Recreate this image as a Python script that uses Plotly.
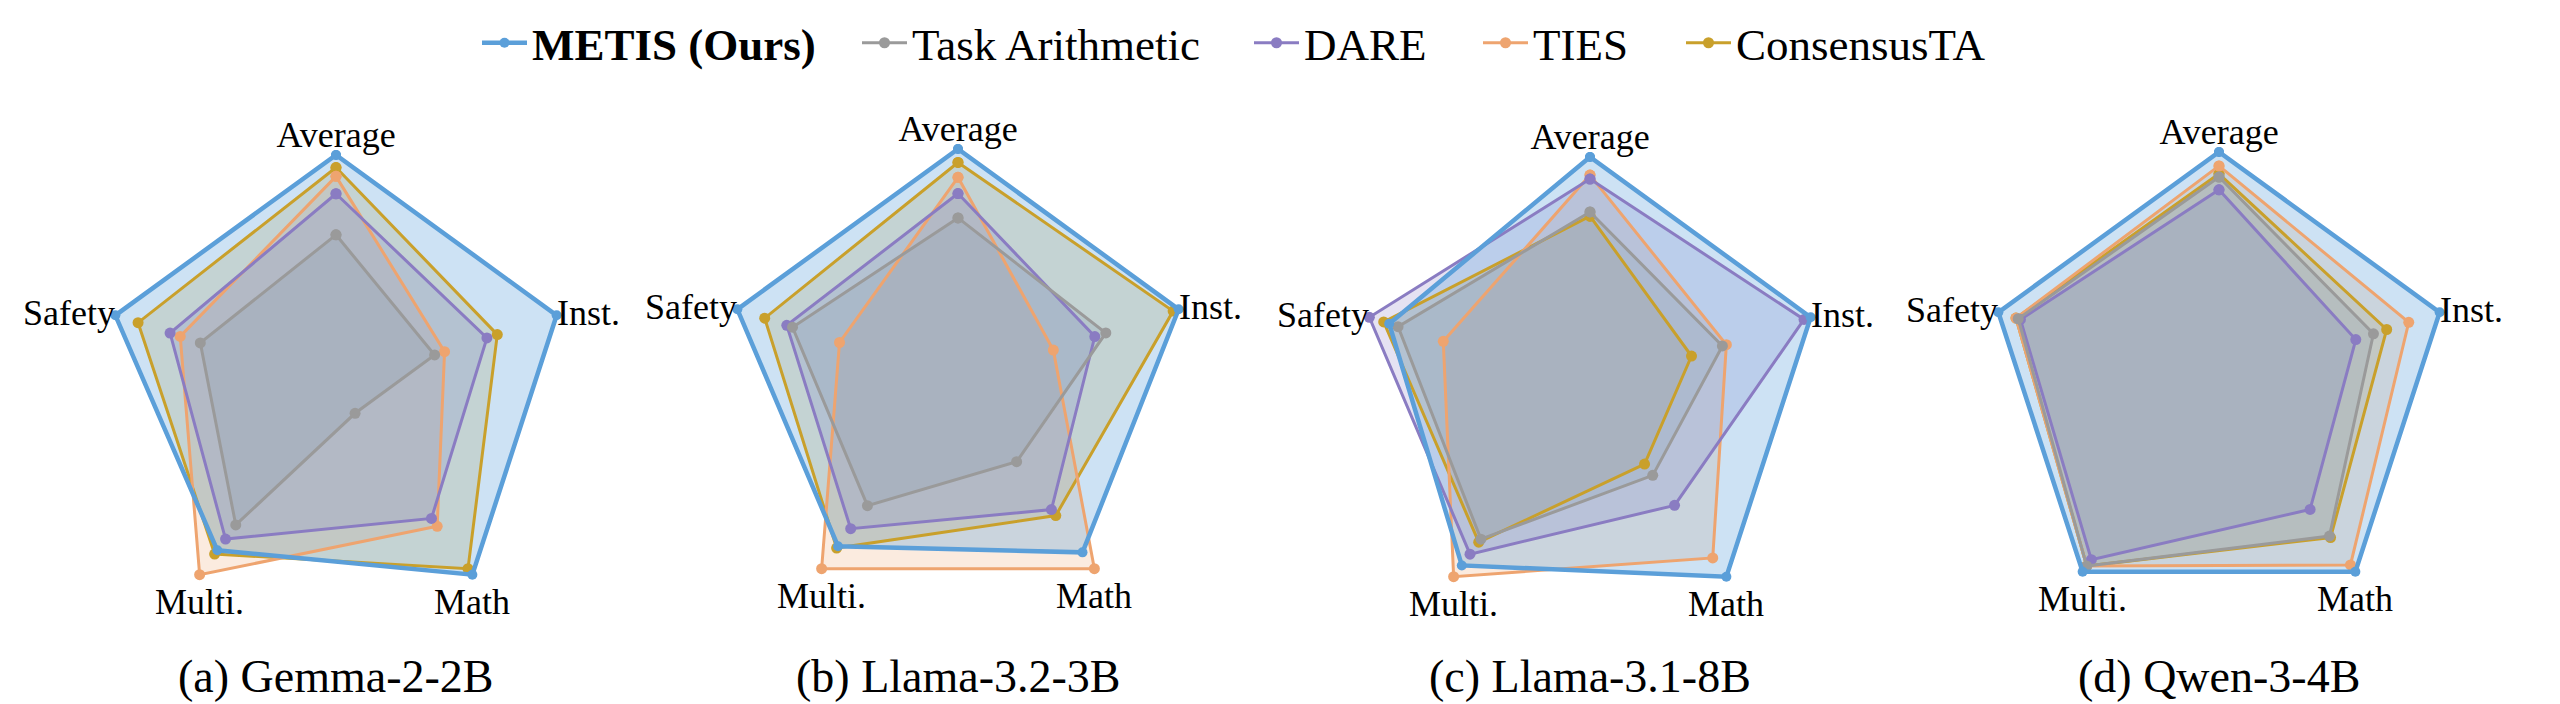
import math
import plotly.graph_objects as go

# ---------------- data (normalised score, 1.0 = outer circle) ----------------
AXES = ["Average", "Inst.", "Math", "Multi.", "Safety"]
MODELS = ["(a) Gemma-2-2B", "(b) Llama-3.2-3B", "(c) Llama-3.1-8B", "(d) Qwen-3-4B"]
METHODS = ["METIS (Ours)", "Task Arithmetic", "DARE", "TIES", "ConsensusTA"]

# one list per model, values ordered as AXES
metis = [
    [1.00, 1.00, 1.00, 0.87, 1.00],
    [1.00, 1.00, 0.913, 0.88, 1.00],
    [1.00, 1.00, 1.00, 0.94, 0.91],
    [1.00, 1.00, 1.00, 1.00, 1.00],
]
task_arithmetic = [
    [0.656, 0.447, 0.14, 0.735, 0.615],
    [0.703, 0.67, 0.43, 0.664, 0.75],
    [0.763, 0.60, 0.46, 0.80, 0.87],
    [0.892, 0.70, 0.81, 0.97, 0.91],
]
dare = [
    [0.833, 0.684, 0.70, 0.81, 0.752],
    [0.808, 0.62, 0.685, 0.787, 0.776],
    [0.905, 0.97, 0.62, 0.88, 1.00],
    [0.837, 0.62, 0.668, 0.936, 0.90],
]
ties = [
    [0.908, 0.492, 0.742, 1.00, 0.706],
    [0.878, 0.432, 1.00, 1.00, 0.537],
    [0.922, 0.618, 0.90, 1.00, 0.665],
    [0.94, 0.86, 0.964, 0.97, 0.92],
]
consensus_ta = [
    [0.946, 0.731, 0.968, 0.89, 0.897],
    [0.942, 0.975, 0.717, 0.89, 0.876],
    [0.745, 0.46, 0.40, 0.816, 0.935],
    [0.906, 0.76, 0.818, 0.97, 0.92],
]

RING_LEVELS = [0.48, 0.58, 0.685, 0.785, 0.885, 0.985]
SPOKE_ANGLES = [0, 45, 90, 135, 180, 225, 270, 315]

# ---------------- styles ----------------
# (legend label, values, colour, fill alpha, line width, marker size, legend id, legend text start px)
SERIES = [
    ("ConsensusTA", consensus_ta, "#c9a02b", 0.22, 3.0, 11, "legend5", 1736),
    ("TIES", ties, "#eea46f", 0.22, 3.0, 11, "legend4", 1533),
    ("DARE", dare, "#8a7cc2", 0.22, 3.0, 11, "legend3", 1304),
    ("Task Arithmetic", task_arithmetic, "#9a9a9a", 0.22, 3.0, 11, "legend2", 912),
    ("<b>METIS (Ours)</b>", metis, "#5b9fd9", 0.30, 4.5, 10, "legend", 532),
]

FONT = "Liberation Serif"
W, H = 2560, 704
CENTERS_X = [336, 958, 1590, 2219]
CENTERS_Y = [387, 381, 389, 384]
R = 232
ITEMW = 45
LEG_Y = 43
BOTTOM_LABELS = ["Math", "Multi."]   # centred under their spoke, as in the original


def rgba(hexc, a):
    h = hexc.lstrip("#")
    r, g, b = int(h[0:2], 16), int(h[2:4], 16), int(h[4:6], 16)
    return f"rgba({r},{g},{b},{a})"


fig = go.Figure()
layout = dict(
    width=W, height=H,
    margin=dict(l=0, r=0, t=0, b=0),
    paper_bgcolor="white",
    plot_bgcolor="white",
    showlegend=True,
    annotations=[],
)

for _, _, _, _, _, _, leg, tx in SERIES:
    layout[leg] = dict(
        x=(tx - ITEMW - 10) / W, xanchor="left",
        y=1 - LEG_Y / H, yanchor="middle",
        font=dict(family=FONT, size=45, color="black"),
        itemwidth=ITEMW, bgcolor="rgba(0,0,0,0)", borderwidth=0,
    )

for i, model in enumerate(MODELS):
    cx, cy = CENTERS_X[i], CENTERS_Y[i]
    xd = [(cx - R) / W, (cx + R) / W]
    yc = H - cy
    yd = [(yc - R) / H, (yc + R) / H]
    grid_name = "polar" if i == 0 else f"polar{i + 1}"
    data_name = f"polar{i + 5}"

    layout[grid_name] = dict(
        domain=dict(x=xd, y=yd),
        bgcolor="white",
        radialaxis=dict(
            range=[0, 1], tickvals=RING_LEVELS, showticklabels=False, ticks="",
            showline=False, gridcolor="#c4c4c4", griddash="dash", gridwidth=1.2,
        ),
        angularaxis=dict(
            type="linear", thetaunit="degrees", direction="clockwise", rotation=90,
            tickvals=SPOKE_ANGLES, showticklabels=False, ticks="",
            gridcolor="#c4c4c4", griddash="dash", gridwidth=1.2,
            showline=True, linecolor="#333333", linewidth=1.6,
        ),
    )
    layout[data_name] = dict(
        domain=dict(x=xd, y=yd),
        bgcolor="rgba(0,0,0,0)",
        radialaxis=dict(range=[0, 1], visible=False),
        angularaxis=dict(
            type="category", categoryarray=AXES, direction="clockwise", rotation=90,
            tickmode="array", tickvals=AXES,
            ticktext=["" if a in BOTTOM_LABELS else a for a in AXES],
            showgrid=False, showline=False, ticks="",
            tickfont=dict(family=FONT, size=36, color="black"),
        ),
    )

    # fills first, so every outline stays crisp on top
    for name, vals, color, alpha, lw, ms, leg, _ in SERIES:
        v = vals[i]
        fig.add_trace(go.Scatterpolar(
            r=v + [v[0]], theta=AXES + [AXES[0]], subplot=data_name,
            mode="none", fill="toself", fillcolor=rgba(color, alpha),
            showlegend=False, hoverinfo="skip",
        ))
    for name, vals, color, alpha, lw, ms, leg, _ in SERIES:
        v = vals[i]
        fig.add_trace(go.Scatterpolar(
            r=v + [v[0]], theta=AXES + [AXES[0]],
            subplot=data_name,
            mode="lines+markers",
            name=name, legendgroup=name, showlegend=(i == 0), legend=leg,
            line=dict(color=color, width=lw),
            marker=dict(color=color, size=ms),
        ))

    # bottom axis labels: centred under the end of their spoke
    for k, a in enumerate(AXES):
        if a not in BOTTOM_LABELS:
            continue
        ang = math.radians(90 - 72 * k)
        px = cx + R * math.cos(ang)
        py = cy - R * math.sin(ang) + 27
        layout["annotations"].append(dict(
            text=a, x=px / W, y=1 - py / H, xref="paper", yref="paper",
            xanchor="center", yanchor="middle", showarrow=False,
            font=dict(family=FONT, size=36, color="black"),
        ))

    layout["annotations"].append(dict(
        text=model, x=cx / W, y=1 - 676 / H, xref="paper", yref="paper",
        xanchor="center", yanchor="middle", showarrow=False,
        font=dict(family=FONT, size=46, color="black"),
    ))

fig.update_layout(**layout)
fig.write_html("out.html")
